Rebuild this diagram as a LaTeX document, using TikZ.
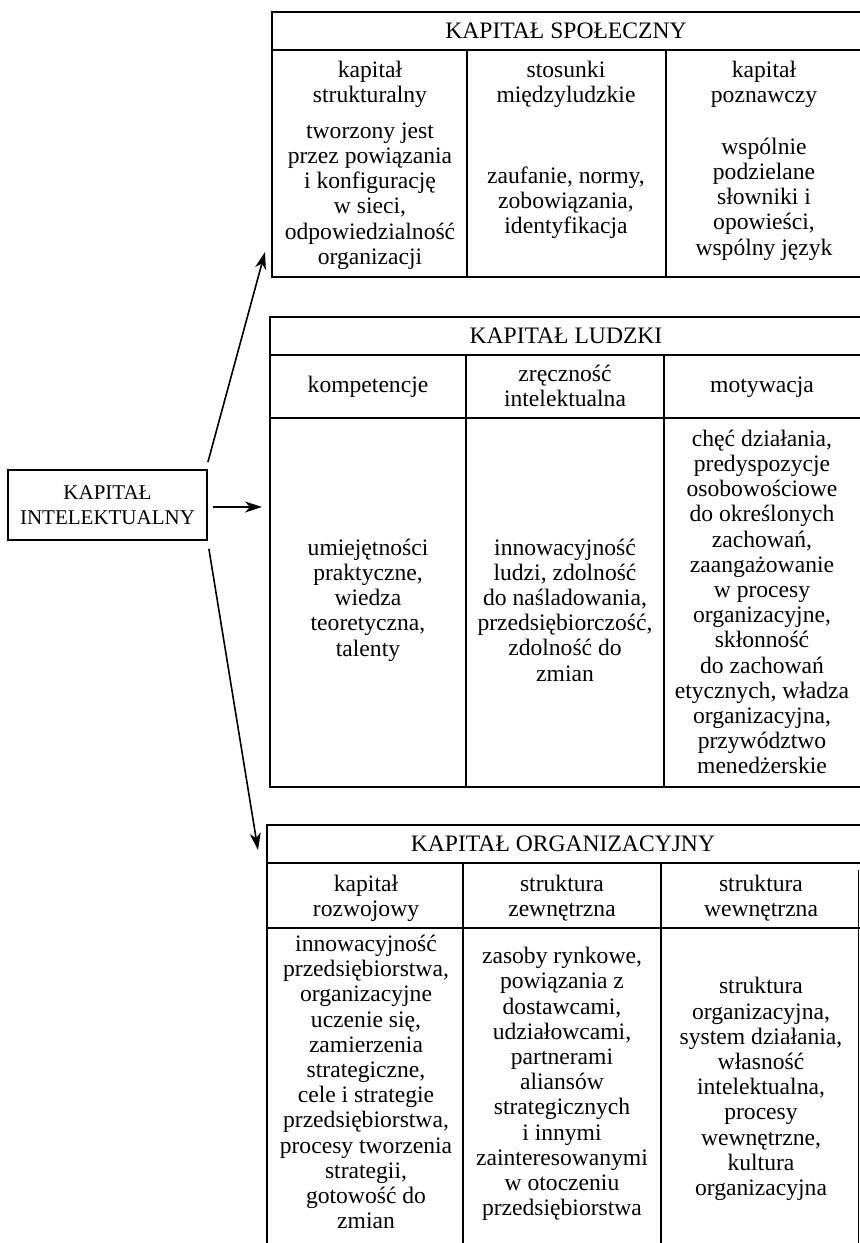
\documentclass[tikz,border=0pt]{standalone}
\usepackage{fontspec}
\setmainfont{Liberation Serif}
\usetikzlibrary{arrows.meta,calc}

\tikzset{
  cell/.style = {align=center, inner sep=0pt,
    font=\fontsize{11.8}{12.6}\selectfont},
  frame/.style = {line width=.9pt},
  link/.style = {-{Stealth[length=8.5pt, width=5.5pt, inset=2.5pt]},
    line width=.8pt}
}

\begin{document}
\begin{tikzpicture}[x=.5pt, y=.5pt]
    \useasboundingbox (0,0) rectangle (860,-1243);

    % kapital intelektualny
    \node [cell, font=\fontsize{10.5}{12.6}\selectfont, draw, frame,
    minimum width=99.5pt, minimum height=35pt]
    (ki) at (107.5,-505) {KAPITAŁ\\INTELEKTUALNY};

    % kapital spoleczny
    \draw [frame] (860,-12) -- (272,-12) -- (272,-277) -- (860,-277);
    \draw [frame] (272,-50) -- (860,-50);
    \foreach \x in {467,666} {
      \draw [frame] (\x,-50) -- (\x,-277);
    }
    \coordinate (spolsw) at (272,-277);
    \node [cell] (spol) at (566,-31) {KAPITAŁ SPOŁECZNY};
    \node [cell] (spol1) at (370,-84) {kapitał\\strukturalny};
    \node [cell] (spol2) at (566,-84) {stosunki\\międzyludzkie};
    \node [cell] (spol3) at (764,-84) {kapitał\\poznawczy};
    \node [cell] (spol1b) at (370,-196)
    {tworzony jest\\przez powiązania\\i konfigurację\\w sieci,\\odpowiedzialność\\organizacji};
    \node [cell] (spol2b) at (566,-203)
    {zaufanie, normy,\\zobowiązania,\\identyfikacja};
    \node [cell] (spol3b) at (764,-199)
    {wspólnie\\podzielane\\słowniki i\\opowieści,\\wspólny język};

    % kapital ludzki
    \draw [frame] (860,-317) -- (270,-317) -- (270,-787) -- (860,-787);
    \draw [frame] (270,-355) -- (860,-355);
    \draw [frame] (270,-418) -- (860,-418);
    \foreach \x in {466,664} {
      \draw [frame] (\x,-355) -- (\x,-787);
    }
    \coordinate (ludzw) at (270,-505);
    \node [cell] (ludz) at (566,-336) {KAPITAŁ LUDZKI};
    \node [cell] (ludz1) at (368,-387) {kompetencje};
    \node [cell] (ludz2) at (565,-386) {zręczność\\intelektualna};
    \node [cell] (ludz3) at (762,-387) {motywacja};
    \node [cell] (ludz1b) at (368,-600)
    {umiejętności\\praktyczne,\\wiedza\\teoretyczna,\\talenty};
    \node [cell] (ludz2b) at (565,-610)
    {innowacyjność\\ludzi, zdolność\\do naśladowania,\\przedsiębiorczość,\\zdolność do\\zmian};
    \node [cell] (ludz3b) at (762,-602)
    {chęć działania,\\predyspozycje\\osobowościowe\\do określonych\\zachowań,\\zaangażowanie\\w procesy\\organizacyjne,\\skłonność\\do zachowań\\etycznych, władza\\organizacyjna,\\przywództwo\\menedżerskie};

    % kapital organizacyjny
    \draw [frame] (860,-825) -- (267,-825) -- (267,-1243);
    \draw [frame] (267,-863) -- (860,-863);
    \draw [frame] (267,-928) -- (860,-928);
    \foreach \x in {463,661} {
      \draw [frame] (\x,-863) -- (\x,-1243);
    }
    \draw [thin] (858,-870) -- (858,-1243);
    \coordinate (orgnw) at (267,-825);
    \node [cell] (org) at (563,-844) {KAPITAŁ ORGANIZACYJNY};
    \node [cell] (org1) at (366,-898) {kapitał\\rozwojowy};
    \node [cell] (org2) at (562,-898) {struktura\\zewnętrzna};
    \node [cell] (org3) at (761,-898) {struktura\\wewnętrzna};
    \node [cell] (org1b) at (366,-1082)
    {innowacyjność\\przedsiębiorstwa,\\organizacyjne\\uczenie się,\\zamierzenia\\strategiczne,\\cele i strategie\\przedsiębiorstwa,\\procesy tworzenia\\strategii,\\gotowość do\\zmian};
    \node [cell] (org2b) at (562,-1084)
    {zasoby rynkowe,\\powiązania z\\dostawcami,\\udziałowcami,\\partnerami\\aliansów\\strategicznych\\i innymi\\zainteresowanymi\\w otoczeniu\\przedsiębiorstwa};
    \node [cell] (org3b) at (761,-1089)
    {struktura\\organizacyjna,\\system działania,\\własność\\intelektualna,\\procesy\\wewnętrzne,\\kultura\\organizacyjna};

    % arrows
    \draw [link] ($(ki.north east)+(0,7)$) -- ($(spolsw)+(-7,25)$);
    \draw [link] ($(ki.east)+(5,-2)$) -- ($(ludzw)+(-8,-2)$);
    \draw [link] ($(ki.south east)+(1,-8)$) -- ($(orgnw)+(-9,-25)$);
  \end{tikzpicture}
\end{document}
